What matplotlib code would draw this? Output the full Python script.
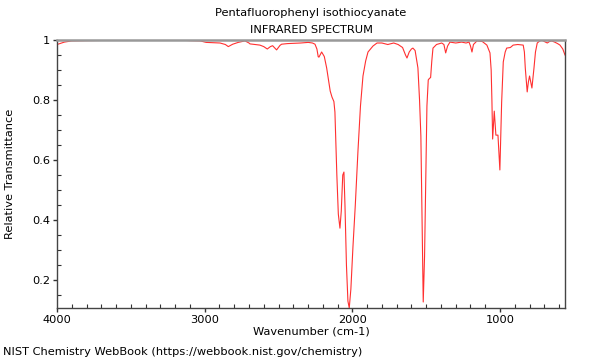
import matplotlib
matplotlib.use("Agg")
import matplotlib.pyplot as plt
from matplotlib.ticker import MultipleLocator, FuncFormatter

title_line1 = "Pentafluorophenyl isothiocyanate"
title_line2 = "INFRARED SPECTRUM"
x_label = "Wavenumber (cm-1)"
y_label = "Relative Transmittance"
footer = "NIST Chemistry WebBook (https://webbook.nist.gov/chemistry)"

wavenumber = [4000, 3950, 3900, 3800, 3600, 3400, 3200, 3100, 3030, 2990, 2940, 2896, 2860, 2840,
              2810, 2773, 2727, 2700, 2693, 2660, 2626, 2600, 2576, 2555, 2540, 2513, 2490, 2479,
              2440, 2400, 2350, 2299, 2270, 2253, 2240, 2231, 2226, 2208, 2190, 2174, 2150, 2138,
              2125, 2118, 2105, 2095, 2084, 2075, 2065, 2057, 2050, 2040, 2030, 2021, 2010, 1996,
              1980, 1962, 1945, 1928, 1910, 1894, 1860, 1833, 1800, 1760, 1720, 1690, 1660, 1640,
              1630, 1615, 1600, 1590, 1575, 1556, 1545, 1536, 1528, 1520, 1511, 1502, 1495, 1486,
              1478, 1470, 1462, 1454, 1430, 1395, 1380, 1368, 1355, 1339, 1300, 1260, 1230, 1210,
              1200, 1190, 1180, 1156, 1120, 1089, 1068, 1060, 1055, 1050, 1044, 1039, 1033, 1028,
              1014, 1008, 1001, 995, 989, 978, 965, 955, 930, 911, 880, 843, 835, 829, 816, 808,
              800, 792, 784, 770, 760, 748, 730, 718, 700, 680, 665, 651, 630, 610, 594, 575, 560]
transmittance = [0.985, 0.993, 0.997, 0.998, 0.999, 1.0, 1.0, 0.998, 0.997, 0.992, 0.991, 0.99, 0.985, 0.978,
                 0.986, 0.992, 0.997, 0.99, 0.987, 0.985, 0.983, 0.978, 0.970, 0.978, 0.981, 0.967, 0.982, 0.986,
                 0.988, 0.989, 0.990, 0.992, 0.990, 0.986, 0.970, 0.944, 0.943, 0.960, 0.945, 0.907, 0.83, 0.81,
                 0.795, 0.76, 0.55, 0.42, 0.373, 0.43, 0.55, 0.56, 0.45, 0.25, 0.13, 0.107, 0.17, 0.31,
                 0.45, 0.63, 0.78, 0.88, 0.93, 0.96, 0.98, 0.99, 0.99, 0.985, 0.99, 0.985, 0.975, 0.95,
                 0.94, 0.96, 0.97, 0.973, 0.965, 0.907, 0.80, 0.68, 0.40, 0.127, 0.28, 0.57, 0.78, 0.867,
                 0.872, 0.875, 0.93, 0.973, 0.985, 0.99, 0.985, 0.957, 0.98, 0.993, 0.99, 0.993, 0.99, 0.993,
                 0.98, 0.96, 0.985, 0.997, 0.995, 0.983, 0.957, 0.90, 0.80, 0.67, 0.72, 0.763, 0.72, 0.683,
                 0.683, 0.63, 0.567, 0.68, 0.793, 0.927, 0.96, 0.973, 0.975, 0.983, 0.985, 0.983, 0.96, 0.907, 0.827, 0.86,
                 0.88, 0.86, 0.84, 0.907, 0.96, 0.99, 0.997, 1.0, 0.995, 0.99, 0.995, 0.997, 0.993, 0.988, 0.983, 0.97, 0.95]

x_ticks = [4000, 3000, 2000, 1000]
y_ticks = [0.2, 0.4, 0.6, 0.8, 1.0]

fs = 8.2
fig = plt.figure(figsize=(6, 3.6), dpi=100)
ax = fig.add_axes([57 / 600, 1 - 308 / 360, (565 - 57) / 600, (308 - 40) / 360])
ax.plot(wavenumber, transmittance, color="#ff3030", lw=0.8)
ax.set_xlim(4000, 560)
ax.set_ylim(0.107, 1.0)
ax.set_xticks(x_ticks)
ax.set_yticks(y_ticks)
ax.xaxis.set_minor_locator(MultipleLocator(100))
ax.yaxis.set_minor_locator(MultipleLocator(0.05))
ax.yaxis.set_major_formatter(FuncFormatter(lambda v, p: "1" if abs(v - 1) < 1e-9 else f"{v:g}"))
ax.tick_params(which="both", top=False, right=False, labelsize=fs, colors="#333333", labelcolor="black")
ax.tick_params(which="major", direction="out", length=3, width=1, pad=2)
ax.tick_params(which="minor", direction="in", length=3, width=0.8)
ax.spines["top"].set_color("#999999")
ax.spines["top"].set_linewidth(1.8)
for s in ["left", "bottom", "right"]:
    ax.spines[s].set_color("#444444")
    ax.spines[s].set_linewidth(1.0)
ax.set_xlabel(x_label, fontsize=fs, labelpad=1)
ax.set_ylabel(y_label, fontsize=fs, labelpad=12)
fig.text(311 / 600, 1 - 13 / 360, title_line1, ha="center", va="center", fontsize=fs)
fig.text(311 / 600, 1 - 30 / 360, title_line2, ha="center", va="center", fontsize=fs)
fig.text(3 / 600, 1 - 352 / 360, footer, ha="left", va="center", fontsize=fs)
fig.savefig("out.png", dpi=100)
